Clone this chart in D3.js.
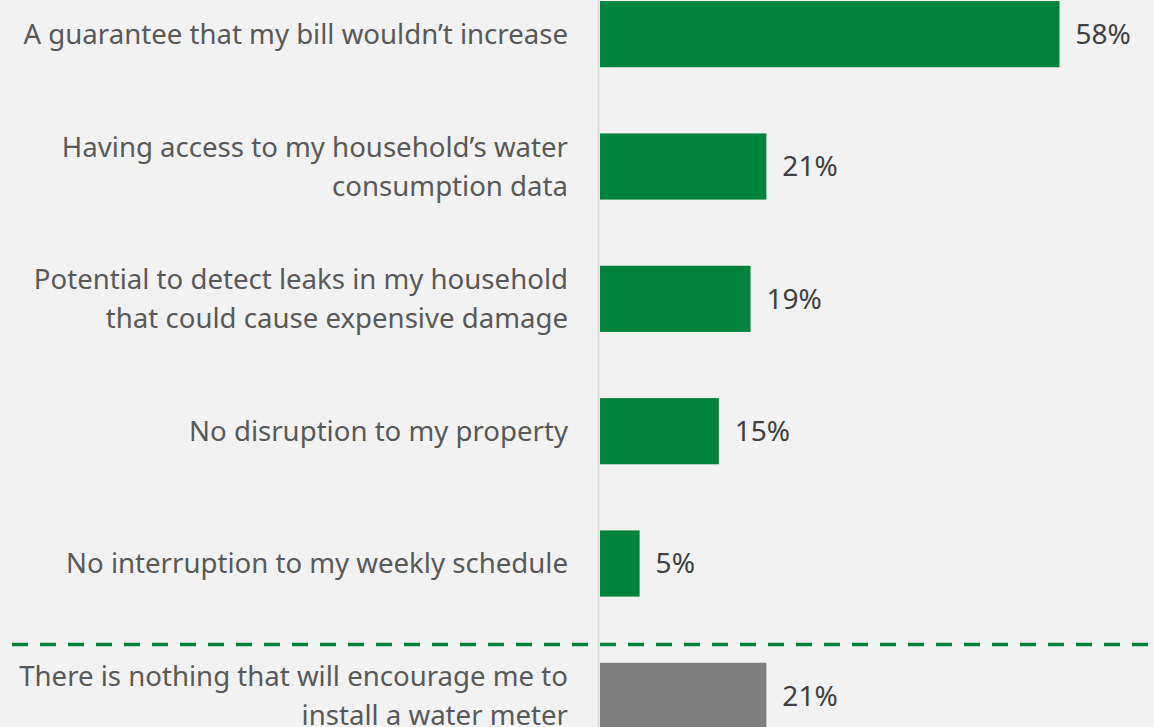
<!DOCTYPE html>
<html>
<head>
<meta charset="utf-8">
<script src="https://cdn.jsdelivr.net/npm/d3@7"></script>
<style>
  html, body { margin: 0; padding: 0; background: #f2f2f2; }
  svg { display: block; }
  text { font-family: "Noto Sans", "Open Sans", sans-serif; }
</style>
</head>
<body>
<svg id="chart" width="1154" height="727"></svg>
<script>
// Survey responses: what would encourage installing a water meter
const categories = [
  ["A guarantee that my bill wouldn\u2019t increase"],
  ["Having access to my household\u2019s water", "consumption data"],
  ["Potential to detect leaks in my household", "that could cause expensive damage"],
  ["No disruption to my property"],
  ["No interruption to my weekly schedule"],
  ["There is nothing that will encourage me to", "install a water meter"]
];
const values = [58, 21, 19, 15, 5, 21];
const barColors = ["#00843d", "#00843d", "#00843d", "#00843d", "#00843d", "#7f7f7f"];

const width = 1154, height = 727;
const svg = d3.select("#chart");

svg.append("rect").attr("width", width).attr("height", height).attr("fill", "#f2f2f2");

const x0 = 600;
const x = d3.scaleLinear().domain([0, 58]).range([x0, 1059.5]);
const y = d3.scaleBand()
  .domain(d3.range(values.length))
  .range([-32, 762])
  .paddingInner(0.5)
  .paddingOuter(0.25);

// Category axis line
svg.append("line")
  .attr("x1", x0 - 1.5).attr("x2", x0 - 1.5)
  .attr("y1", 0).attr("y2", height)
  .attr("stroke", "#d9d9d9").attr("stroke-width", 2);

// Bars
svg.append("g").selectAll("rect")
  .data(values)
  .join("rect")
  .attr("x", x(0))
  .attr("y", (d, i) => y(i))
  .attr("width", d => x(d) - x(0))
  .attr("height", y.bandwidth())
  .attr("fill", (d, i) => barColors[i]);

// Value labels
svg.append("g").selectAll("text")
  .data(values)
  .join("text")
  .attr("x", d => x(d) + 16)
  .attr("y", (d, i) => y(i) + y.bandwidth() / 2)
  .attr("dy", "0.35em")
  .attr("font-size", 28)
  .attr("fill", "#404040")
  .text(d => d + "%");

// Category labels, right-aligned against the axis
const lineGap = 39;
const labels = svg.append("g").selectAll("text")
  .data(categories)
  .join("text")
  .attr("text-anchor", "end")
  .attr("font-size", 27.6)
  .attr("fill", "#595959");
labels.each(function(lines, i) {
  const cy = y(i) + y.bandwidth() / 2;
  const top = cy - (lines.length - 1) * lineGap / 2;
  d3.select(this).selectAll("tspan")
    .data(lines)
    .join("tspan")
    .attr("x", 568)
    .attr("y", (d, j) => top + j * lineGap)
    .attr("dy", "0.35em")
    .text(d => d);
});

// Divider between options and the "nothing" response
svg.append("line")
  .attr("x1", 12).attr("x2", width)
  .attr("y1", 644.5).attr("y2", 644.5)
  .attr("stroke", "#00843d")
  .attr("stroke-width", 3.5)
  .attr("stroke-dasharray", "16 12");
</script>
</body>
</html>
